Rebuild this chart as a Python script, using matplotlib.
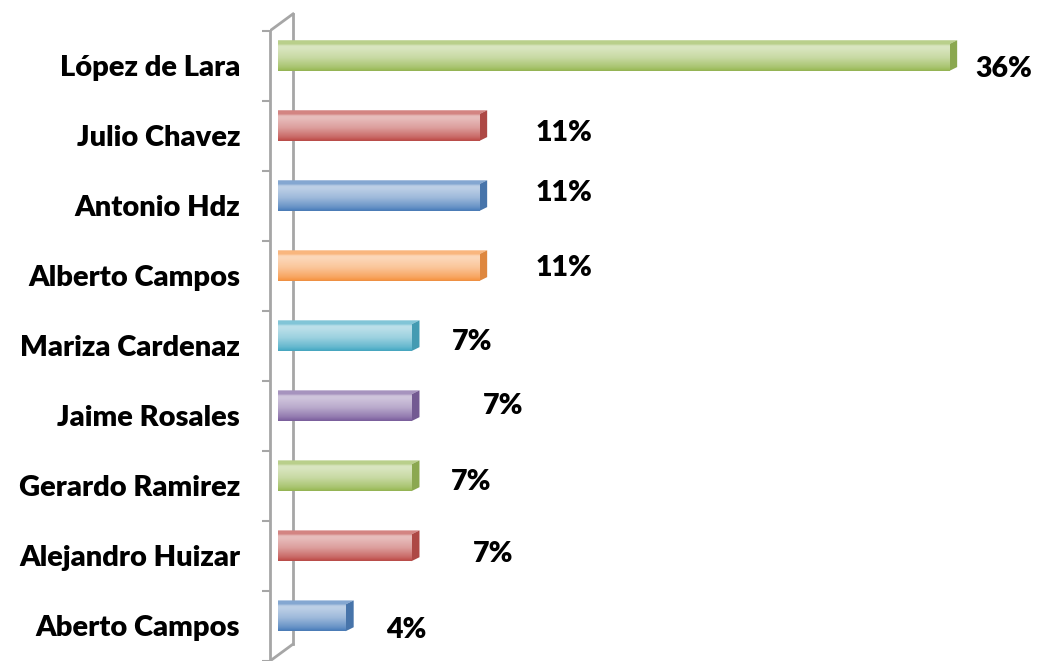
import numpy as np
import matplotlib.pyplot as plt
from matplotlib.patches import Polygon, Rectangle
from matplotlib.colors import to_rgb

plt.rcParams['font.family'] = ['Lato', 'DejaVu Sans']

candidates = ['López de Lara', 'Julio Chavez', 'Antonio Hdz', 'Alberto Campos',
              'Mariza Cardenaz', 'Jaime Rosales', 'Gerardo Ramirez',
              'Alejandro Huizar', 'Aberto Campos']
votes_pct = [35.7, 10.7, 10.7, 10.7, 7.1, 7.1, 7.1, 7.1, 3.6]

# excel 2007 palette, cycling from the bottom bar upwards
palette = ['#4F81BD', '#C0504D', '#9BBB59', '#8064A2', '#4BACC6', '#F79646']
bar_colors = [palette[i % 6] for i in range(len(candidates))][::-1]

# where each value label sits relative to the bar end (pixels)
label_offsets = [(55, -11), (85, -5), (85, 5), (85, 0), (61, -4),
                 (92, 2), (60, -4), (82, -6), (61, -12)]

W, H = 1038, 661
px_pct = 18.8       # pixels per percent
px_cat = 70.5       # pixels per category
x0_px = 278         # bar start
front_px = 270      # front axis line

fig = plt.figure(figsize=(W / 100, H / 100), dpi=100)
ax = fig.add_axes([front_px / W, 0, 1 - front_px / W, 1])
xmin = -(x0_px - front_px) / px_pct
xmax = xmin + (W - front_px) / px_pct
top_y = 8 + 58 / px_cat
ybot = top_y - H / px_cat

n = len(candidates)
ypos = np.arange(n)[::-1]
bar_h = 27 / px_cat
ddx, ddy = 8 / px_pct, 4 / px_cat   # bar depth


def mix(c, f):
    # f > 0 towards white, f < 0 towards black
    c = np.array(to_rgb(c))
    if f >= 0:
        return c + (1 - c) * f
    return c * (1 + f)


def draw_bar(y, v, color):
    yb, yt = y - bar_h / 2, y + bar_h / 2
    # top face and right cap
    top = Polygon([(0, yt), (v, yt), (v + ddx, yt + ddy), (0, yt + ddy)],
                  closed=True, fc=mix(color, 0.3), ec='none', zorder=3)
    cap = Polygon([(v, yb), (v + ddx, yb + ddy), (v + ddx, yt + ddy), (v, yt)],
                  closed=True, fc=mix(color, -0.1), ec='none', zorder=3)
    ax.add_patch(top)
    ax.add_patch(cap)
    # front face with a vertical gradient
    stops_t = [0.0, 0.06, 0.15, 0.5, 0.85, 1.0]
    stops_f = [0.35, 0.62, 0.62, 0.45, 0.15, -0.05]
    t = np.linspace(0, 1, 60)
    f = np.interp(t, stops_t, stops_f)
    img = np.array([[mix(color, fi)] for fi in f])
    face = Rectangle((0, yb), v, bar_h, fc='none', ec='none', zorder=4)
    ax.add_patch(face)
    im = ax.imshow(img, extent=[0, v, yb, yt], aspect='auto', zorder=4,
                   interpolation='bilinear')
    im.set_clip_path(face)


# back wall line behind the bars
wall = '#a6a6a6'
wx, wy = 23 / px_pct, 17 / px_cat
y_lo, y_hi = -0.5 - 0.117, n - 0.5 - 0.117
ax.plot([xmin + wx, xmin + wx], [y_lo + wy, y_hi + wy], color=wall, lw=2, zorder=1)
ax.plot([xmin, xmin + wx], [y_hi, y_hi + wy], color=wall, lw=2, zorder=1)
ax.plot([xmin, xmin + wx], [y_lo, y_lo + wy], color=wall, lw=2, zorder=1)

for y, v, c in zip(ypos, votes_pct, bar_colors):
    draw_bar(y, v, c)

for y, v, (ox, oy) in zip(ypos, votes_pct, label_offsets):
    ax.annotate(f'{v:.0f}%', (v, y), xytext=(ox, oy), textcoords='offset pixels',
                ha='center', va='center', fontsize=20.5, fontweight='heavy', zorder=5)

ax.set_xlim(xmin, xmax)
ax.set_ylim(ybot, top_y)

for s in ['top', 'right', 'bottom']:
    ax.spines[s].set_visible(False)
ax.spines['left'].set_color(wall)
ax.spines['left'].set_linewidth(2)
ax.spines['left'].set_bounds(y_lo, y_hi)
ax.set_xticks([])
ax.set_yticks(ypos - 0.117)
ax.set_yticklabels(candidates, fontsize=21, fontweight='heavy')
ax.tick_params(axis='y', which='major', length=0, pad=21.5)
ax.set_yticks(np.arange(-1, n) + 0.5 - 0.117, minor=True)
ax.tick_params(axis='y', which='minor', length=6, width=1.5, color=wall)

fig.savefig('out.png', dpi=100)
